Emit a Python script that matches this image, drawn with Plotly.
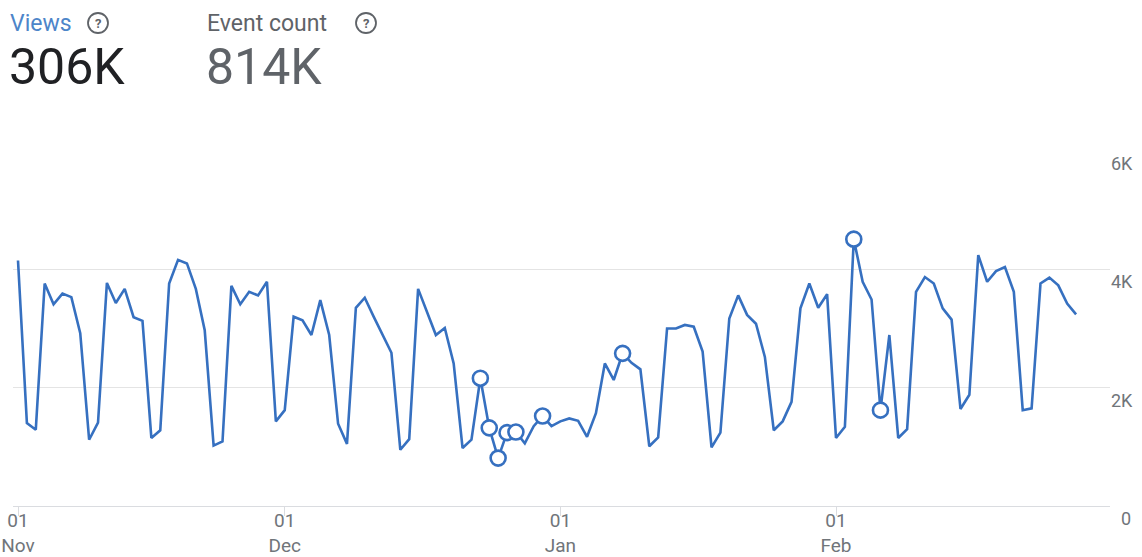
import plotly.graph_objects as go
import pandas as pd

# ---- data ----
start_date = "2019-11-01"
end_date = "2020-02-28"
views = [
    4150, 1400, 1290, 3760, 3410, 3590, 3530, 2920, 1120, 1410,
    3770, 3430, 3670, 3190, 3130, 1150, 1280, 3760, 4160, 4100,
    3670, 2970, 1020, 1090, 3720, 3410, 3620, 3560, 3790, 1430,
    1620, 3200, 3140, 2890, 3480, 2890, 1390, 1050, 3350, 3520,
    3200, 2890, 2590, 950, 1130, 3670, 3280, 2890, 3010, 2410,
    980, 1120, 2160, 1320, 810, 1240, 1250, 1060, 1350, 1520,
    1350, 1430, 1480, 1440, 1170, 1570, 2410, 2130, 2580, 2420,
    2310, 1010, 1160, 3000, 3000, 3060, 3030, 2610, 990, 1240,
    3170, 3560, 3230, 3080, 2520, 1280, 1430, 1760, 3340, 3760,
    3350, 3580, 1150, 1340, 4510, 3790, 3490, 1620, 2890, 1150,
    1300, 3620, 3870, 3760, 3340, 3150, 1640, 1880, 4240, 3790,
    3970, 4040, 3620, 1620, 1650, 3760, 3860, 3730, 3420, 3240,
]
anomaly_dates = ["2019-12-23", "2019-12-24", "2019-12-25", "2019-12-26",
                 "2019-12-27", "2019-12-30", "2020-01-08", "2020-02-03",
                 "2020-02-06"]
x_tick_dates = ["2019-11-01", "2019-12-01", "2020-01-01", "2020-02-01"]
x_tick_text = ["01<br>Nov", "01<br>Dec", "01<br>Jan", "01<br>Feb"]
y_tick_vals = [0, 2000, 4000, 6000]
y_tick_text = ["\u20070", "2K", "4K", "6K"]
metric_names = ["Views", "Event count"]
metric_totals = ["306K", "814K"]

dates = pd.date_range(start_date, end_date, freq="D")
series = pd.Series(views, index=dates)
an_idx = pd.to_datetime(anomaly_dates)
an_vals = series.loc[an_idx].values

LINE = "#3670c0"
W, H = 1142, 557
L, R, T, B = 13, 1110, 151, 506  # plot area in px


def px(xp):
    return (xp - L) / (R - L)


def py(yp):
    return (B - yp) / (B - T)


fig = go.Figure()
fig.add_trace(go.Scatter(
    x=dates, y=views, mode="lines",
    line=dict(color=LINE, width=2.6),
    hoverinfo="skip", showlegend=False, cliponaxis=False,
))
fig.add_trace(go.Scatter(
    x=an_idx, y=an_vals, mode="markers",
    marker=dict(size=15, color="white", line=dict(color=LINE, width=2.6)),
    hoverinfo="skip", showlegend=False, cliponaxis=False,
))

annotations = []
shapes = []
# header
header_x = [10, 207]
name_colors = ["#4d85c9", "#5f6368"]
total_colors = ["#202124", "#5f6368"]
q_cx = [98, 366]
for i in range(2):
    annotations.append(dict(
        x=px(header_x[i] - 2), y=py(23), xref="paper", yref="paper",
        text=metric_names[i], showarrow=False, xanchor="left", yanchor="middle",
        font=dict(family="Roboto", size=23, color=name_colors[i]),
    ))
    annotations.append(dict(
        x=px(header_x[i] - 3), y=py(67), xref="paper", yref="paper",
        text=metric_totals[i], showarrow=False, xanchor="left", yanchor="middle",
        font=dict(family="Roboto", size=50, color=total_colors[i]),
    ))
    r = 10
    shapes.append(dict(
        type="circle", xref="paper", yref="paper",
        x0=px(q_cx[i] - r), x1=px(q_cx[i] + r),
        y0=py(23 + r), y1=py(23 - r),
        line=dict(color="#5f6368", width=1.8),
    ))
    annotations.append(dict(
        x=px(q_cx[i]), y=py(23.5), xref="paper", yref="paper",
        text="<b>?</b>", showarrow=False, xanchor="center", yanchor="middle",
        font=dict(family="Roboto", size=13, color="#5f6368"),
    ))

x0 = pd.Timestamp(start_date)
day_px = (836 - 18) / 92.0
range_start = x0 - pd.Timedelta(days=(18 - L) / day_px)
range_end = x0 + pd.Timedelta(days=(R - 18) / day_px)

fig.update_layout(
    width=W, height=H,
    margin=dict(l=L, r=W - R, t=T, b=H - B, pad=0, autoexpand=False),
    paper_bgcolor="white", plot_bgcolor="white",
    font=dict(family="Roboto", color="#70757a"),
    annotations=annotations, shapes=shapes,
    xaxis=dict(
        range=[range_start, range_end], automargin=False,
        tickvals=pd.to_datetime(x_tick_dates), ticktext=x_tick_text,
        showgrid=False, zeroline=False,
        showline=False,
        ticks="outside", ticklen=9, tickcolor="#dadce0", tickwidth=1,
        ticklabelstandoff=-12,
        tickfont=dict(family="Roboto", size=19, color="#70757a"),
    ),
    yaxis=dict(
        range=[0, 6000], side="right", automargin=False,
        tickvals=y_tick_vals, ticktext=y_tick_text,
        showgrid=True, gridcolor="#e4e4e4", gridwidth=1,
        zeroline=True, zerolinecolor="#dadce0", zerolinewidth=1,
        showline=False, ticks="",
        ticklabelposition="outside bottom",
        tickfont=dict(family="Roboto", size=18, color="#70757a"),
    ),
)

fig.write_html("out.html")
